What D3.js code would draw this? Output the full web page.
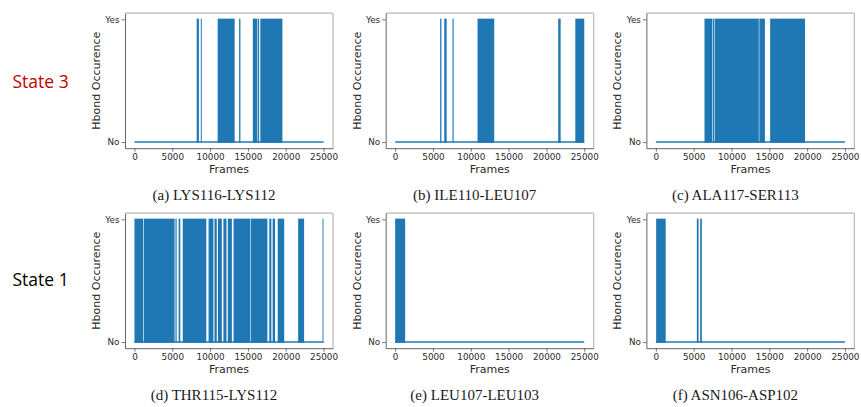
<!DOCTYPE html>
<html>
<head>
<meta charset="utf-8">
<script src="https://cdn.jsdelivr.net/npm/d3@7/dist/d3.min.js"></script>
<style>
  html, body { margin: 0; padding: 0; background: #fff; }
  svg { display: block; }
</style>
</head>
<body>
<svg id="fig" width="861" height="407"></svg>
<script>
// Frame windows [start, end] in which each hydrogen bond is present.
const bondsA = [[8230, 8520], [8770, 8900], [11000, 13250], [13840, 14010],
                [15650, 16200], [16280, 16480], [16640, 19560]];
const bondsB = [[5950, 6120], [6490, 6810], [7580, 7730], [10890, 13100],
                [21560, 21880], [23820, 25000]];
const bondsC = [[6430, 7460], [7530, 7730], [7800, 13610], [13680, 14420],
                [15110, 19720]];
const bondsD = [[0, 1150], [1230, 5310], [5420, 5580], [5840, 6060],
                [6380, 9500], [9800, 10440], [10580, 10880], [11040, 11550],
                [11760, 12170], [12340, 12880], [13100, 15330], [15410, 17580],
                [17820, 18100], [18270, 18590], [18940, 19800], [21640, 22430],
                [24870, 24990]];
const bondsE = [[0, 1320]];
const bondsF = [[40, 1300], [5420, 5650], [5860, 6080]];

const panelBonds = [bondsA, bondsB, bondsC, bondsD, bondsE, bondsF];
const captions = ["(a) LYS116-LYS112", "(b) ILE110-LEU107", "(c) ALA117-SER113",
                  "(d) THR115-LYS112", "(e) LEU107-LEU103", "(f) ASN106-ASP102"];
const rowLabels = ["State 3", "State 1"];
const frameTicks = [0, 5000, 10000, 15000, 20000, 25000];
const stateTicks = ["No", "Yes"];
const totalFrames = 25000;

const blue = "#1f77b4";
const svg = d3.select("#fig");

// panel geometry
const plotW = 208, plotH = 135;
const colX = [125, 385.7, 646.4];
const rowY = [13.2, 213.2];

const x = d3.scaleLinear().domain([-totalFrames * 0.05, totalFrames * 1.05]).range([0, plotW]);
const y = d3.scaleLinear().domain([-0.05, 1.05]).range([plotH, 0]);

panelBonds.forEach((bonds, i) => {
  const col = i % 3, row = Math.floor(i / 3);
  const g = svg.append("g").attr("transform", `translate(${colX[col]},${rowY[row]})`);

  // occupancy blocks
  g.append("g").selectAll("rect").data(bonds).join("rect")
    .attr("x", d => x(d[0]))
    .attr("width", d => Math.max(0, x(d[1]) - x(d[0])))
    .attr("y", y(1) - 0.7)
    .attr("height", y(0) - y(1) + 1.4)
    .attr("fill", blue);

  // baseline of the trace
  g.append("line")
    .attr("x1", x(0)).attr("x2", x(totalFrames))
    .attr("y1", y(0)).attr("y2", y(0))
    .attr("stroke", blue).attr("stroke-width", 1.4);

  // frame
  g.append("line").attr("x1", 0).attr("x2", plotW).attr("y1", 0).attr("y2", 0)
    .attr("stroke", "#b8b8b8").attr("stroke-width", 1.2);
  g.append("line").attr("x1", plotW).attr("x2", plotW).attr("y1", 0).attr("y2", plotH)
    .attr("stroke", "#b8b8b8").attr("stroke-width", 1.2);

  const xa = g.append("g").attr("transform", `translate(0,${plotH})`)
    .call(d3.axisBottom(x).tickValues(frameTicks).tickFormat(d3.format("d"))
      .tickSize(3.5).tickPadding(2).tickSizeOuter(0));
  const ya = g.append("g")
    .call(d3.axisLeft(y).tickValues([0, 1]).tickFormat(d => stateTicks[d])
      .tickSize(3.5).tickPadding(2).tickSizeOuter(0));
  [xa, ya].forEach(a => {
    a.select(".domain").attr("stroke", "#666").attr("stroke-width", 1);
    a.selectAll(".tick line").attr("stroke", "#555").attr("stroke-width", 0.8);
    a.selectAll(".tick text").attr("fill", "#2a2a2a")
      .style("font-family", "'DejaVu Sans', sans-serif").style("font-size", "8.8px");
  });

  g.append("text")
    .attr("x", plotW / 2).attr("y", plotH + 24.5)
    .attr("text-anchor", "middle")
    .attr("fill", "#2a2a2a")
    .style("font-family", "'DejaVu Sans', sans-serif").style("font-size", "11px")
    .text("Frames");

  g.append("text")
    .attr("transform", `translate(${-25},${plotH / 2}) rotate(-90)`)
    .attr("text-anchor", "middle")
    .attr("fill", "#2a2a2a")
    .style("font-family", "'DejaVu Sans', sans-serif").style("font-size", "11px")
    .text("Hbond Occurence");

  g.append("text")
    .attr("x", plotW / 2 - 15).attr("y", 187)
    .attr("text-anchor", "middle")
    .attr("fill", "#1a1a1a")
    .style("font-family", "'Liberation Serif', 'Times New Roman', serif").style("font-size", "15px")
    .text(captions[i]);
});

// state labels on the left of each row
svg.selectAll("text.state").data(rowLabels).join("text")
  .attr("class", "state")
  .attr("x", 12.5)
  .attr("y", (d, i) => 87.5 + i * 198.5)
  .attr("fill", (d, i) => i === 0 ? "#c00000" : "#000")
  .style("font-family", "'Open Sans', 'Noto Sans', sans-serif").style("font-size", "17.5px")
  .text(d => d);
</script>
</body>
</html>
